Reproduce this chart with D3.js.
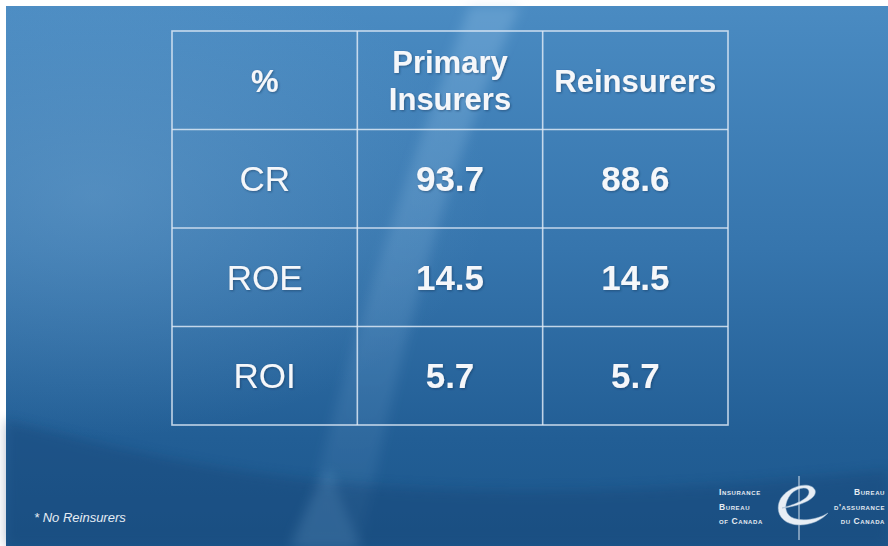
<!DOCTYPE html>
<html>
<head>
<meta charset="utf-8">
<script src="https://cdn.jsdelivr.net/npm/d3@7"></script>
<style>
  html, body { margin: 0; padding: 0; background: #fff; }
  svg { display: block; }
</style>
</head>
<body>
<div class="slide"></div>
<script>

// Table contents
var headers = ["%", "Primary Insurers", "Reinsurers"];
var measures = ["CR", "ROE", "ROI"];
var primaryInsurers = [93.7, 14.5, 5.7];
var reinsurers = [88.6, 14.5, 5.7];
var footnote = "* No Reinsurers";
var logoLeft = ["Insurance", "Bureau", "of Canada"];
var logoRight = ["Bureau", "d'assurance", "du Canada"];

var width = 888, height = 546;

var svg = d3.select(".slide")
  .append("svg")
    .attr("width", width)
    .attr("height", height);

var defs = svg.append("defs");

// Background gradient
var bg = defs.append("linearGradient")
  .attr("id", "bg")
  .attr("x1", "0%").attr("y1", "0%")
  .attr("x2", "0%").attr("y2", "100%");
bg.append("stop").attr("offset", "0%").attr("stop-color", "#4a8bc2");
bg.append("stop").attr("offset", "45%").attr("stop-color", "#3675ad");
bg.append("stop").attr("offset", "80%").attr("stop-color", "#225e95");
bg.append("stop").attr("offset", "100%").attr("stop-color", "#1c578c");

var glow = defs.append("radialGradient")
  .attr("id", "glow")
  .attr("cx", "10%").attr("cy", "35%").attr("r", "45%");
glow.append("stop").attr("offset", "0%").attr("stop-color", "#7fb0d8").attr("stop-opacity", 0.35);
glow.append("stop").attr("offset", "100%").attr("stop-color", "#7fb0d8").attr("stop-opacity", 0);

var streak = defs.append("linearGradient")
  .attr("id", "streak")
  .attr("x1", "0%").attr("y1", "0%")
  .attr("x2", "0%").attr("y2", "100%");
streak.append("stop").attr("offset", "0%").attr("stop-color", "#9cc8ec").attr("stop-opacity", 0.3);
streak.append("stop").attr("offset", "60%").attr("stop-color", "#9cc8ec").attr("stop-opacity", 0.15);
streak.append("stop").attr("offset", "100%").attr("stop-color", "#9cc8ec").attr("stop-opacity", 0.06);

var blur = defs.append("filter").attr("id", "soft");
blur.append("feGaussianBlur").attr("stdDeviation", 6);

var shadow = defs.append("filter").attr("id", "shadow")
  .attr("x", "-10%").attr("y", "-10%").attr("width", "120%").attr("height", "130%");
shadow.append("feDropShadow")
  .attr("dx", 1).attr("dy", 1).attr("stdDeviation", 1)
  .attr("flood-color", "#0b2d52").attr("flood-opacity", 0.5);

// Slide area (white border on top and left)
var slide = svg.append("g");

slide.append("rect")
  .attr("x", 6).attr("y", 6)
  .attr("width", width - 6).attr("height", height - 6)
  .style("fill", "url(#bg)");

slide.append("rect")
  .attr("x", 6).attr("y", 6)
  .attr("width", width - 6).attr("height", height - 6)
  .style("fill", "url(#glow)");

// Light diagonal streaks
slide.append("path")
  .attr("d", "M470,6 L520,6 C470,120 420,250 360,546 L300,546 C360,300 420,140 470,6 Z")
  .style("fill", "url(#streak)")
  .attr("filter", "url(#soft)");

slide.append("path")
  .attr("d", "M330,470 C340,500 350,520 360,546 L290,546 C300,520 315,490 330,470 Z")
  .style("fill", "#5d97c6")
  .style("opacity", 0.45)
  .attr("filter", "url(#soft)");

// Darker swoosh at the bottom
slide.append("path")
  .attr("d", "M6,420 C200,470 400,520 888,470 L888,546 L6,546 Z")
  .style("fill", "#123f70")
  .style("opacity", 0.35)
  .attr("filter", "url(#soft)");

// Table layout
var table = { left: 172, right: 728, top: 31, bottom: 425 };

var x = d3.scaleBand()
  .domain(d3.range(headers.length))
  .range([table.left, table.right]);

var y = d3.scaleBand()
  .domain(d3.range(measures.length + 1))
  .range([table.top, table.bottom]);

var grid = slide.append("g")
  .attr("class", "grid")
  .style("stroke", "#dce8f4")
  .style("stroke-opacity", 0.85)
  .style("stroke-width", 1.6)
  .style("fill", "none");

grid.append("rect")
  .attr("x", table.left).attr("y", table.top)
  .attr("width", table.right - table.left)
  .attr("height", table.bottom - table.top);

grid.selectAll("line.col")
  .data(d3.range(1, headers.length))
  .enter()
  .append("line")
  .attr("class", "col")
  .attr("x1", function(d) { return x(d); })
  .attr("x2", function(d) { return x(d); })
  .attr("y1", table.top)
  .attr("y2", table.bottom);

grid.selectAll("line.row")
  .data(d3.range(1, measures.length + 1))
  .enter()
  .append("line")
  .attr("class", "row")
  .attr("x1", table.left)
  .attr("x2", table.right)
  .attr("y1", function(d) { return y(d); })
  .attr("y2", function(d) { return y(d); });

var cells = slide.append("g")
  .attr("font-family", "'Liberation Sans', Arial, sans-serif")
  .style("fill", "#f5f7fa")
  .attr("text-anchor", "middle")
  .attr("filter", "url(#shadow)");

// Header row
var head = cells.selectAll("text.head")
  .data(headers)
  .enter()
  .append("text")
  .attr("class", "head")
  .attr("font-size", 31)
  .attr("font-weight", "bold")
  .attr("x", function(d, i) { return x(i) + x.bandwidth() / 2; })
  .attr("y", y(0) + y.bandwidth() / 2 + 1);

head.each(function(d) {
  var words = d.split(" ");
  var el = d3.select(this);
  var lineHeight = 37;
  var start = -(words.length - 1) * lineHeight / 2;
  words.forEach(function(w, k) {
    el.append("tspan")
      .attr("x", el.attr("x"))
      .attr("dy", k === 0 ? start : lineHeight)
      .attr("dominant-baseline", "central")
      .text(w);
  });
});

// Body rows
var fmt = d3.format(".1f");

cells.selectAll("text.label")
  .data(measures)
  .enter()
  .append("text")
  .attr("class", "label")
  .attr("font-size", 35)
  .attr("x", x(0) + x.bandwidth() / 2)
  .attr("y", function(d, i) { return y(i + 1) + y.bandwidth() / 2; })
  .attr("dominant-baseline", "central")
  .text(function(d) { return d; });

[primaryInsurers, reinsurers].forEach(function(series, s) {
  cells.selectAll("text.val" + s)
    .data(series)
    .enter()
    .append("text")
    .attr("class", "val" + s)
    .attr("font-size", 35)
    .attr("font-weight", "bold")
    .attr("x", x(s + 1) + x.bandwidth() / 2)
    .attr("y", function(d, i) { return y(i + 1) + y.bandwidth() / 2; })
    .attr("dominant-baseline", "central")
    .text(function(d) { return fmt(d); });
});

// Footnote
slide.append("text")
  .attr("x", 34)
  .attr("y", 522)
  .attr("font-family", "'Liberation Sans', Arial, sans-serif")
  .attr("font-size", 13)
  .attr("font-style", "italic")
  .style("fill", "#e6edf4")
  .text(footnote);

// Logo
var logo = slide.append("g")
  .attr("font-family", "'Liberation Sans', Arial, sans-serif")
  .attr("font-size", 8.5)
  .attr("font-weight", "bold")
  .style("fill", "#e4ebf2")
  .style("font-variant", "small-caps")
  .style("letter-spacing", "0.6px");

logo.selectAll("text.left")
  .data(logoLeft)
  .enter()
  .append("text")
  .attr("class", "left")
  .attr("x", 719)
  .attr("y", function(d, i) { return 495 + i * 14.5; })
  .text(function(d) { return d; });

logo.selectAll("text.right")
  .data(logoRight)
  .enter()
  .append("text")
  .attr("class", "right")
  .attr("text-anchor", "end")
  .attr("x", 885)
  .attr("y", function(d, i) { return 495 + i * 14.5; })
  .text(function(d) { return d; });

logo.append("line")
  .attr("x1", 799).attr("x2", 799)
  .attr("y1", 476).attr("y2", 540)
  .style("stroke", "#d9e4ef")
  .style("stroke-width", 1);

logo.append("path")
  .attr("d", "M782,508 C802,506 818,498 815,490 C811,481 790,485 781,498 C774,510 780,525 800,525 C811,525 822,520 828,513 C817,520 800,522 791,517 C784,512 784,503 791,494 C798,487 809,486 809,492 C809,499 796,504 782,508 Z")
  .style("fill", "#e8eef5")
  .style("stroke", "#9fb8d0")
  .style("stroke-width", 0.5);

</script>
</body>
</html>
